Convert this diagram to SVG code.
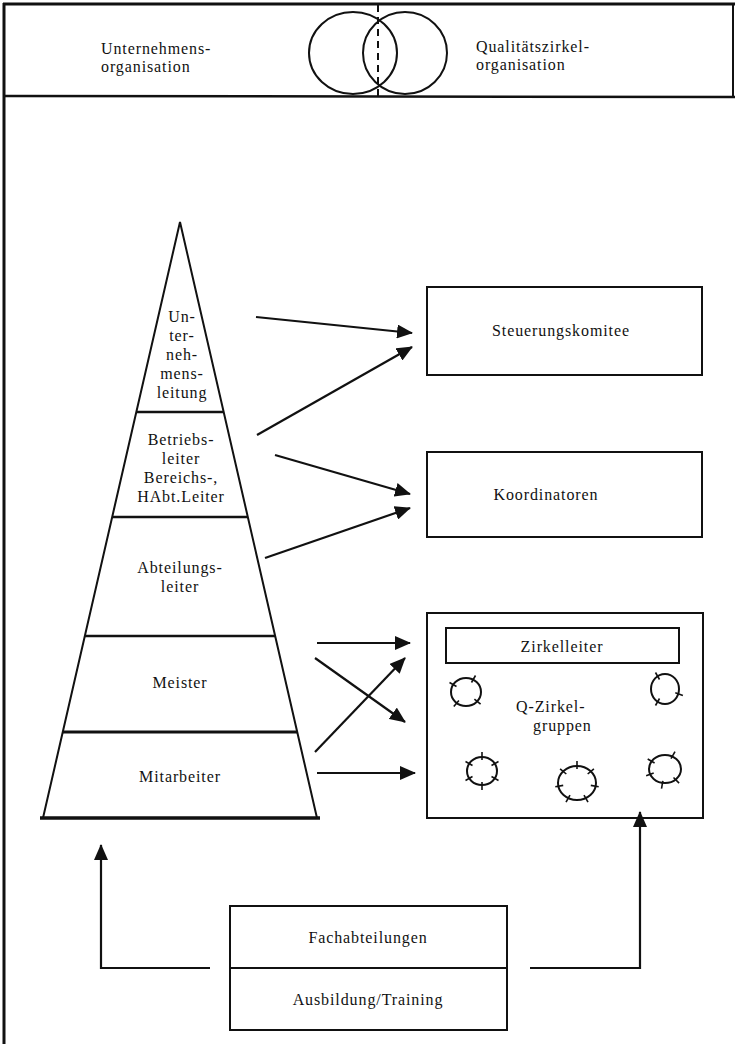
<svg xmlns="http://www.w3.org/2000/svg" width="736" height="1044" viewBox="0 0 736 1044">
<style>
text{font-family:"Liberation Serif","Times New Roman",serif;font-size:16px;fill:#111;letter-spacing:0.9px}
.c{text-anchor:middle}
.box{fill:none;stroke:#111;stroke-width:2}
.ln{stroke:#111;stroke-width:2;fill:none}
.arr{stroke:#111;stroke-width:2.2;fill:none;marker-end:url(#ah)}
.grp{fill:none;stroke:#111;stroke-width:2}
.tk{stroke:#111;stroke-width:1.6}
</style>
<defs>
<marker id="ah" markerUnits="userSpaceOnUse" markerWidth="16" markerHeight="14" refX="15" refY="7" orient="auto">
<path d="M0,0 L16,7 L0,14 z" fill="#111"/>
</marker>
</defs>
<rect width="736" height="1044" fill="#fff"/>
<g id="frame">
<line x1="3" y1="4" x2="735" y2="4" stroke="#111" stroke-width="3"/>
<line x1="4" y1="3" x2="4" y2="1044" stroke="#111" stroke-width="3"/>
<line x1="733" y1="4" x2="733" y2="97" stroke="#111" stroke-width="2"/>
<line x1="4" y1="96" x2="735" y2="97" stroke="#111" stroke-width="2.5"/>
</g>
<g id="header">
<text x="101" y="54">Unternehmens-</text>
<text x="101" y="72">organisation</text>
<text x="476" y="52">Qualitätszirkel-</text>
<text x="476" y="70">organisation</text>
<ellipse cx="353" cy="53" rx="44" ry="41" class="ln"/>
<ellipse cx="405" cy="53" rx="42" ry="41" class="ln"/>
<line x1="378" y1="5" x2="378" y2="97" stroke="#111" stroke-width="2" stroke-dasharray="7,5"/>
</g>
<g id="pyramid">
<polygon points="180,222 317,818 43,818" class="ln"/>
<line x1="136" y1="412" x2="224" y2="412" stroke="#111" stroke-width="2.5"/>
<line x1="112" y1="517" x2="248" y2="517" stroke="#111" stroke-width="2.5"/>
<line x1="85" y1="636" x2="275" y2="636" stroke="#111" stroke-width="2.5"/>
<line x1="63" y1="732" x2="297" y2="732" stroke="#111" stroke-width="3"/>
<line x1="40" y1="818" x2="320" y2="818" stroke="#111" stroke-width="3.5"/>
</g>
<g id="n-unternehmensleitung">
<text class="c" x="182" y="322">Un-</text>
<text class="c" x="182" y="341">ter-</text>
<text class="c" x="182" y="360">neh-</text>
<text class="c" x="182" y="379">mens-</text>
<text class="c" x="182" y="398">leitung</text>
</g>
<g id="n-betriebsleiter">
<text class="c" x="181" y="445">Betriebs-</text>
<text class="c" x="181" y="464">leiter</text>
<text class="c" x="181" y="483">Bereichs-,</text>
<text class="c" x="181" y="502">HAbt.Leiter</text>
</g>
<g id="n-abteilungsleiter">
<text class="c" x="180" y="573">Abteilungs-</text>
<text class="c" x="180" y="592">leiter</text>
</g>
<g id="n-meister">
<text class="c" x="180" y="688">Meister</text>
</g>
<g id="n-mitarbeiter">
<text class="c" x="180" y="782">Mitarbeiter</text>
</g>
<g id="n-steuerungskomitee">
<rect x="427" y="287" width="275" height="88" class="box"/>
<text class="c" x="561" y="336">Steuerungskomitee</text>
</g>
<g id="n-koordinatoren">
<rect x="427" y="452" width="275" height="85" class="box"/>
<text class="c" x="546" y="500">Koordinatoren</text>
</g>
<g id="n-qzirkel">
<rect x="427" y="613" width="276" height="205" class="box"/>
<rect x="446" y="628" width="233" height="35" class="box"/>
<text class="c" x="562" y="652">Zirkelleiter</text>
<text x="516" y="712">Q-Zirkel-</text>
<text x="533" y="731">gruppen</text>
<ellipse cx="466" cy="692" rx="15" ry="14" class="grp"/>
<line class="tk" x1="471.5" y1="682.5" x2="475.5" y2="675.5"/>
<line class="tk" x1="456.5" y1="686.5" x2="449.5" y2="682.5"/>
<line class="tk" x1="458.9" y1="700.4" x2="453.8" y2="706.6"/>
<line class="tk" x1="474.4" y1="699.1" x2="480.6" y2="704.2"/>
<ellipse cx="665" cy="689" rx="14" ry="15" class="grp"/>
<line class="tk" x1="659.5" y1="679.5" x2="655.5" y2="672.5"/>
<line class="tk" x1="675.3" y1="692.8" x2="682.9" y2="695.5"/>
<line class="tk" x1="659.5" y1="698.5" x2="655.5" y2="705.5"/>
<ellipse cx="482" cy="771" rx="15" ry="14" class="grp"/>
<line class="tk" x1="482" y1="760" x2="482" y2="752"/>
<line class="tk" x1="491.5" y1="765.5" x2="498.5" y2="761.5"/>
<line class="tk" x1="491.5" y1="776.5" x2="498.5" y2="780.5"/>
<line class="tk" x1="482" y1="782" x2="482" y2="790"/>
<line class="tk" x1="472.5" y1="776.5" x2="465.5" y2="780.5"/>
<line class="tk" x1="472.5" y1="765.5" x2="465.5" y2="761.5"/>
<ellipse cx="577" cy="783" rx="19" ry="17" class="grp"/>
<line class="tk" x1="577" y1="769" x2="577" y2="761"/>
<line class="tk" x1="587.7" y1="774" x2="593.9" y2="768.9"/>
<line class="tk" x1="590.8" y1="785.4" x2="598.7" y2="786.8"/>
<line class="tk" x1="584" y1="795.1" x2="588" y2="802.1"/>
<line class="tk" x1="570" y1="795.1" x2="566" y2="802.1"/>
<line class="tk" x1="563.2" y1="785.4" x2="555.3" y2="786.8"/>
<line class="tk" x1="566.3" y1="774" x2="560.1" y2="768.9"/>
<ellipse cx="665" cy="769" rx="16" ry="14" class="grp"/>
<line class="tk" x1="671" y1="758.6" x2="675" y2="751.7"/>
<line class="tk" x1="673.5" y1="777.5" x2="679.1" y2="783.1"/>
<line class="tk" x1="662.9" y1="780.8" x2="661.5" y2="788.7"/>
<line class="tk" x1="654.6" y1="763" x2="647.7" y2="759"/>
<line class="tk" x1="653.7" y1="773.1" x2="646.2" y2="775.8"/>
</g>
<g id="n-fachabteilungen">
<rect x="230" y="906" width="277" height="124" class="box"/>
<line x1="230" y1="968" x2="507" y2="968" stroke="#111" stroke-width="2"/>
<text class="c" x="368" y="943">Fachabteilungen</text>
<text class="c" x="368" y="1005">Ausbildung/Training</text>
</g>
<g id="connectors">
<line class="arr" x1="256" y1="317" x2="412" y2="333"/>
<line class="arr" x1="257" y1="435" x2="412" y2="347"/>
<line class="arr" x1="275" y1="455" x2="410" y2="494"/>
<line class="arr" x1="265" y1="558" x2="410" y2="508"/>
<line class="arr" x1="317" y1="643" x2="410" y2="643"/>
<line class="arr" x1="315" y1="658" x2="405" y2="722"/>
<line class="arr" x1="315" y1="752" x2="405" y2="658"/>
<line class="arr" x1="317" y1="773" x2="415" y2="773"/>
<path class="arr" d="M210,968 H101 V845"/>
<path class="arr" d="M530,968 H640 V812"/>
</g>
</svg>
